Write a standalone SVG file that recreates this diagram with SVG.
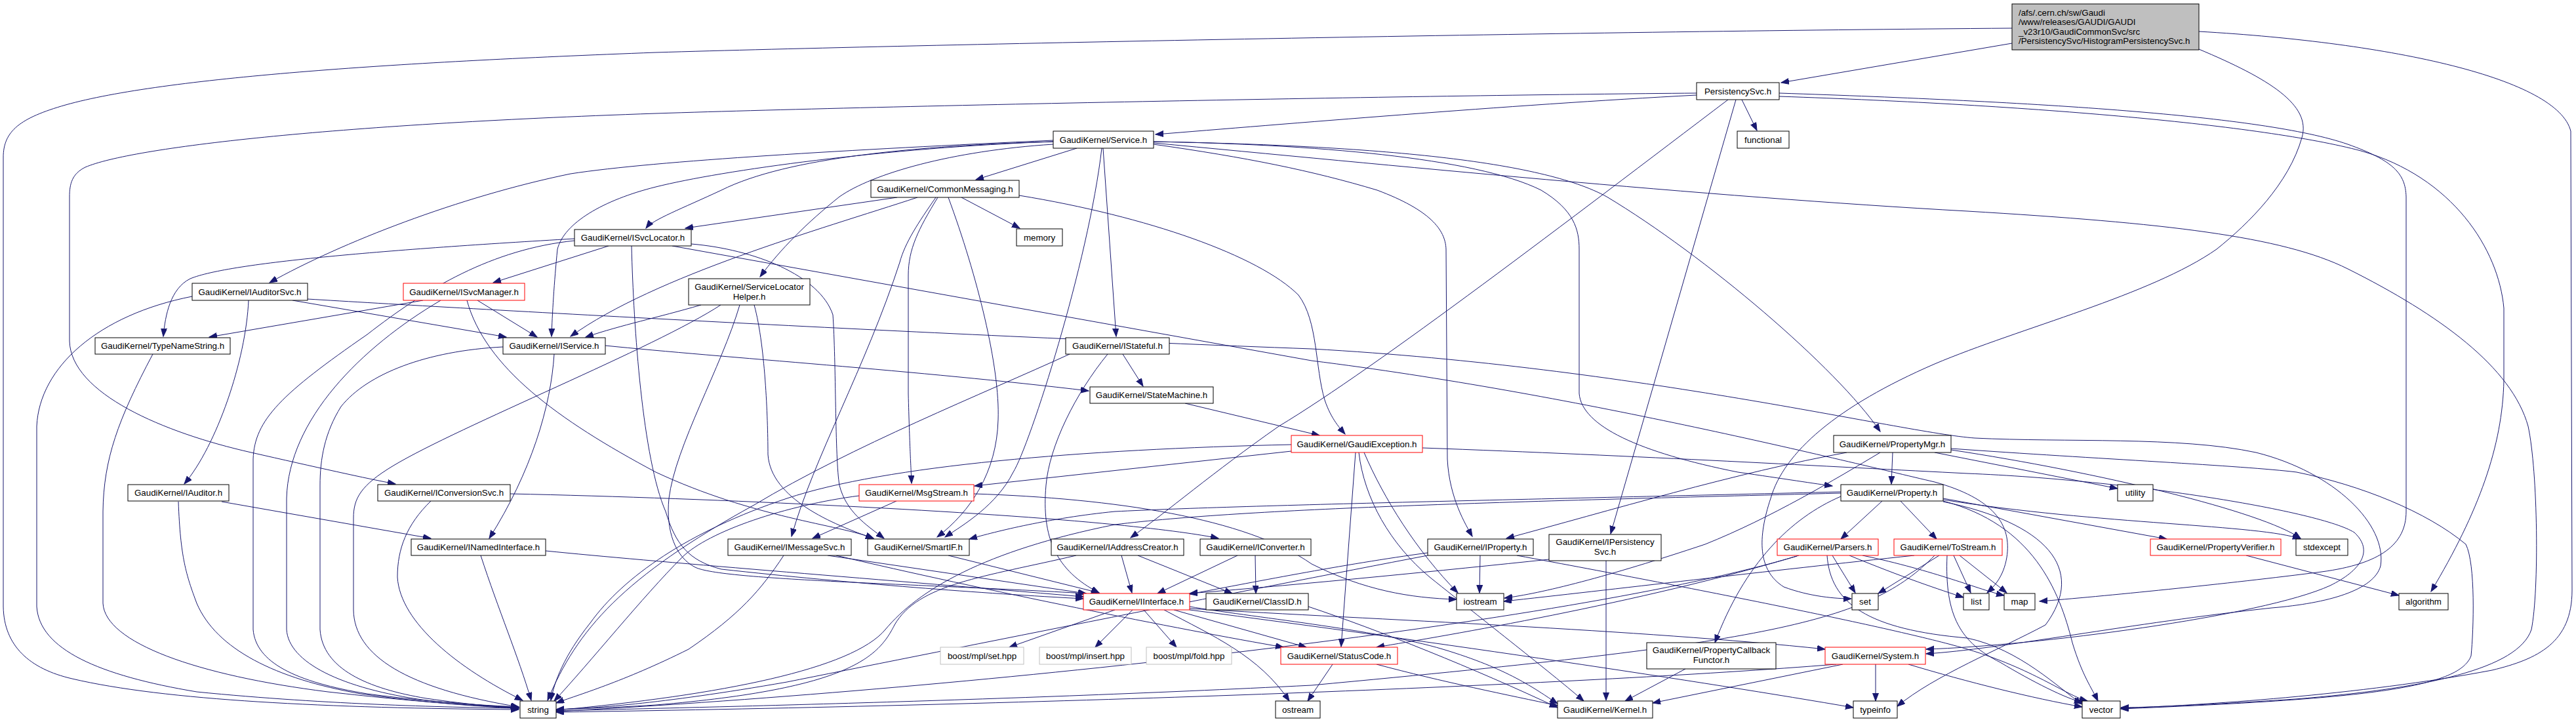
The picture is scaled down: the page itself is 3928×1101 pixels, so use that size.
<svg xmlns="http://www.w3.org/2000/svg" width="3928" height="1101" viewBox="0 0 3928 1101">
<style>
.bg{fill:#fff}
.node rect{fill:#fff;stroke:#000;stroke-width:1}
.node.red rect{stroke:#ff0000}
.node.gray rect{stroke:#bfbfbf}
.node.root rect{fill:#bfbfbf}
.node text{font-family:"Liberation Sans",Arial,sans-serif;font-size:13.33px;fill:#000;text-anchor:middle}
.node text.l{text-anchor:start}
#edges path{fill:none;stroke:#191970;stroke-width:1;marker-end:url(#ah)}
</style>
<defs>
<marker id="ah" markerUnits="userSpaceOnUse" markerWidth="14" markerHeight="10" refX="12" refY="4.5" orient="auto"><path d="M0,0 L12,4.5 L0,9 z" fill="#191970" stroke="#191970" stroke-width="1"/></marker>
</defs>
<rect class="bg" x="0" y="0" width="3928" height="1101"/>
<g id="edges">
<path d="M3068,66 L2716,126"/>
<path d="M3068,43 C2400,48 1400,68 1000,80 C600,95 250,118 100,160 C30,180 5,200 5,240 L5,925 C6,985 45,1020 110,1035 C250,1068 500,1080 791,1082"/>
<path d="M3353,48 C3650,65 3900,120 3920,200 L3922,900 C3922,980 3870,1005 3800,1022 C3600,1060 3350,1076 3234,1080"/>
<path d="M3353,75 C3460,120 3525,160 3510,210 C3490,280 3430,340 3380,380 C3280,450 3080,500 2950,555 C2800,620 2720,690 2700,760 C2680,820 2680,870 2720,895 C2760,910 2800,913 2823,913"/>
<path d="M2587,145 C2300,160 1950,190 1762,205"/>
<path d="M2656,152 L2679,199"/>
<path d="M2587,142 C2200,145 1400,160 1000,173 C500,190 200,225 130,255 C110,265 106,280 106,300 L106,520 C108,600 250,660 383,690 C480,712 560,730 603,738"/>
<path d="M2635,152 C2400,330 2100,560 1950,650 C1850,720 1780,780 1724,820"/>
<path d="M2647,152 L2456,814"/>
<path d="M2713,142 C3100,155 3450,175 3580,220 C3650,245 3668,265 3669,300 L3669,780 C3669,830 3630,860 3540,872 C3400,890 3200,910 3110,917"/>
<path d="M2713,147 C3100,160 3450,190 3600,230 C3740,270 3810,380 3818,470 L3818,580 C3816,680 3780,780 3707,902"/>
<path d="M1642,226 L1488,274"/>
<path d="M1606,216 C1400,222 1200,240 1100,290 C1040,318 995,335 985,348"/>
<path d="M1606,214 C1300,228 1000,245 870,265 C700,300 520,370 411,431"/>
<path d="M1606,216 C1350,225 1100,260 1000,285 C920,305 860,340 850,380 C845,430 842,480 841,513"/>
<path d="M1606,220 C1450,230 1330,265 1280,300 C1230,340 1190,380 1159,422"/>
<path d="M1682,226 L1702,513"/>
<path d="M1680,226 C1660,400 1570,680 1545,720 C1520,770 1470,800 1441,819"/>
<path d="M1759,220 C1900,240 2000,260 2100,290 C2180,320 2204,350 2205,380 L2207,700 C2210,760 2235,800 2245,818"/>
<path d="M1759,216 C2000,220 2250,240 2350,290 C2400,320 2408,350 2408,380 L2408,600 C2412,650 2500,690 2650,720 C2720,730 2770,738 2794,741"/>
<path d="M1759,216 C2100,222 2350,245 2450,300 C2600,390 2800,560 2867,658"/>
<path d="M1759,218 C2100,250 2600,300 3000,322 C3300,340 3480,360 3580,410 C3720,480 3830,560 3855,650 C3870,720 3872,900 3860,960 C3840,1020 3700,1050 3500,1066 C3350,1076 3260,1079 3234,1079"/>
<path d="M1368,301 L1045,348"/>
<path d="M1399,301 C1250,350 1000,420 870,513"/>
<path d="M1427,301 C1400,340 1380,370 1372,400 C1320,560 1240,700 1207,818"/>
<path d="M1430,301 C1400,350 1385,380 1385,420 L1385,600 C1387,680 1389,710 1390,737"/>
<path d="M1446,301 C1490,420 1525,560 1522,640 C1520,720 1480,780 1429,819"/>
<path d="M1466,301 L1555,348"/>
<path d="M1554,298 C1750,330 1920,390 1980,450 C2010,490 2005,560 2020,610 C2030,640 2045,655 2051,662"/>
<path d="M876,364 C600,380 350,400 290,425 C260,440 252,480 249,513"/>
<path d="M876,367 C750,380 650,440 560,510 C430,600 388,640 386,700 L386,960 C390,1010 450,1040 560,1058 C650,1070 740,1076 791,1078"/>
<path d="M928,375 L752,431"/>
<path d="M963,375 C966,500 980,700 1015,780 C1030,830 1050,855 1100,868 C1300,890 1500,905 1652,913"/>
<path d="M1054,372 C1150,380 1250,420 1270,480 C1275,550 1273,700 1280,740 C1290,780 1320,800 1348,821"/>
<path d="M1025,375 L2000,550 C2400,600 2800,700 2950,735 C3040,760 3068,800 3060,850 C3055,880 3040,895 3030,904"/>
<path d="M446,458 L772,514"/>
<path d="M379,458 C375,550 330,680 281,738"/>
<path d="M293,452 C150,480 60,560 56,650 L56,925 C60,990 150,1030 300,1055 C500,1075 700,1079 791,1080"/>
<path d="M469,456 C700,470 1400,510 2000,532 C2500,560 2900,660 3011,668 C3150,675 3323,665 3440,690 C3560,720 3640,800 3630,863 C3620,900 3550,920 3464,927 C3250,950 3050,990 2937,997"/>
<path d="M645,458 L319,514"/>
<path d="M728,458 L819,514"/>
<path d="M672,458 C550,530 440,640 437,760 L437,960 C440,1010 520,1050 650,1068 C720,1075 770,1078 791,1078"/>
<path d="M712,458 C740,560 850,640 1000,720 C1150,790 1280,800 1332,821"/>
<path d="M1069,465 C1000,485 950,495 893,514"/>
<path d="M1099,465 C1000,530 700,650 600,710 C550,740 539,760 539,790 L539,930 C540,1000 620,1050 791,1078"/>
<path d="M1128,465 C1100,560 1030,680 1020,760 C1015,810 1030,850 1060,865 C1100,885 1400,890 1656,905"/>
<path d="M1150,465 C1168,530 1171,650 1171,693 C1175,760 1270,800 1332,821"/>
<path d="M233,540 C180,640 158,700 157,780 L157,920 C160,980 300,1030 500,1055 C650,1072 750,1078 791,1079"/>
<path d="M767,529 C650,535 560,570 520,620 C495,660 488,700 488,740 L488,960 C492,1020 560,1050 650,1065 C720,1075 760,1078 791,1080"/>
<path d="M923,527 C1100,545 1400,565 1660,596"/>
<path d="M845,540 C840,620 810,720 746,821"/>
<path d="M1712,540 L1743,589"/>
<path d="M1689,540 C1640,600 1600,680 1595,740 C1588,820 1610,870 1676,904"/>
<path d="M1631,540 C1500,600 1300,680 1150,770 C950,880 880,960 835,1068"/>
<path d="M1807,615 L2012,664"/>
<path d="M1969,688 L1486,741"/>
<path d="M1969,678 C1650,685 1350,710 1200,760 C1050,810 950,880 900,950 C860,1000 845,1040 840,1068"/>
<path d="M2067,690 L2045,986"/>
<path d="M2072,690 C2080,760 2120,830 2180,880 C2280,960 2370,1030 2415,1069"/>
<path d="M2080,690 C2110,760 2160,840 2223,904"/>
<path d="M2169,683 C2500,695 2800,712 3000,722 C3250,732 3540,780 3590,812 C3620,840 3600,870 3553,893 C3450,940 3100,985 2937,990"/>
<path d="M2886,690 L2884,738"/>
<path d="M2816,690 C2650,720 2450,780 2297,821"/>
<path d="M2867,690 C2800,730 2700,790 2600,830 C2450,880 2350,905 2294,912"/>
<path d="M2950,690 L3229,745"/>
<path d="M2975,686 C3200,720 3450,780 3508,821"/>
<path d="M2975,684 C3200,700 3420,710 3502,720 C3600,740 3700,780 3760,830 C3775,860 3772,960 3768,1000 C3750,1050 3600,1066 3234,1081"/>
<path d="M338,765 L657,821"/>
<path d="M272,765 C275,850 284,877 300,920 C330,990 420,1035 550,1058 C650,1072 740,1078 791,1080"/>
<path d="M657,764 C620,800 606,837 606,880 C610,950 700,1020 797,1068"/>
<path d="M778,753 C1100,760 1500,780 1700,800 C1780,808 1830,815 1858,821"/>
<path d="M1367,764 L1239,821"/>
<path d="M1310,756 C1200,770 1080,810 1040,850 C980,910 900,1010 845,1069"/>
<path d="M1485,753 C1700,760 1900,790 2000,860 C2080,900 2150,912 2221,914"/>
<path d="M733,847 C760,930 790,1000 810,1068"/>
<path d="M832,840 C1000,857 1300,880 1652,910"/>
<path d="M1195,847 C1160,900 1128,937 1050,990 C950,1040 880,1060 848,1072"/>
<path d="M1262,847 L1656,905"/>
<path d="M1275,847 C1500,900 1800,960 1957,987"/>
<path d="M1446,847 L1676,904"/>
<path d="M1710,847 L1726,904"/>
<path d="M1735,847 L1879,905"/>
<path d="M1641,847 C1500,880 1400,890 1364,953 C1340,1000 1300,1050 1000,1075 C920,1080 870,1081 848,1082"/>
<path d="M1887,847 L1765,905"/>
<path d="M1914,847 L1915,905"/>
<path d="M2257,847 L2256,904"/>
<path d="M2177,843 C2050,860 1900,890 1814,906"/>
<path d="M2177,847 C1900,900 1400,1000 1200,1040 C1000,1075 900,1080 848,1082"/>
<path d="M2313,847 C2600,900 2900,960 3000,990 C3100,1020 3150,1060 3183,1069"/>
<path d="M2449,855 L2449,1068"/>
<path d="M2362,853 C2200,870 2000,890 1814,905"/>
<path d="M2743,847 C2500,920 2200,970 2099,987"/>
<path d="M2740,848 C2400,950 1500,1050 848,1085"/>
<path d="M2794,847 L2829,904"/>
<path d="M2820,847 C2900,880 2960,900 2994,911"/>
<path d="M2840,847 C2950,870 3020,900 3056,908"/>
<path d="M2786,847 C2791,920 2848,960 3000,973 C3080,990 3140,1050 3175,1074"/>
<path d="M2919,847 C2700,870 2450,900 2293,917"/>
<path d="M2957,847 L2864,905"/>
<path d="M2979,847 L3005,904"/>
<path d="M2988,847 L3060,904"/>
<path d="M2969,847 C2965,940 2990,980 3050,1010 C3100,1040 3150,1065 3175,1071"/>
<path d="M2950,847 C2850,950 2700,980 2000,1045 C1500,1070 1000,1080 848,1084"/>
<path d="M3425,847 L3658,908"/>
<path d="M2570,1020 L2478,1069"/>
<path d="M1700,930 L1539,987"/>
<path d="M1727,930 L1670,987"/>
<path d="M1744,930 L1794,987"/>
<path d="M1790,930 L1992,987"/>
<path d="M1775,930 C1850,970 1920,1000 1966,1069"/>
<path d="M1814,925 C1900,940 2100,960 2200,990 C2300,1020 2340,1050 2375,1073"/>
<path d="M1814,928 C2100,945 2500,960 2783,990"/>
<path d="M1814,930 C2200,980 2600,1040 2826,1079"/>
<path d="M1995,925 C2100,960 2250,1020 2375,1079"/>
<path d="M2032,1013 L1994,1069"/>
<path d="M2099,1013 C2200,1040 2300,1060 2375,1076"/>
<path d="M2800,1013 C2400,1045 1600,1075 848,1086"/>
<path d="M2810,1013 L2520,1072"/>
<path d="M2860,1013 L2860,1069"/>
<path d="M2910,1013 C3000,1040 3100,1065 3175,1078"/>
<path d="M2870,764 L2807,822"/>
<path d="M2898,764 L2953,822"/>
<path d="M2807,757 C2730,790 2660,860 2615,980"/>
<path d="M2963,760 L3304,822"/>
<path d="M2963,762 C3200,800 3450,800 3508,822"/>
<path d="M2807,750 C2400,760 1900,770 1700,780 C1600,790 1520,810 1478,822"/>
<path d="M2807,752 C2300,765 1900,775 1700,800 C1500,840 1400,900 1350,960 C1300,1020 1100,1060 848,1083"/>
<path d="M2963,764 C3100,800 3140,900 3160,980 C3175,1030 3190,1050 3199,1069"/>
<path d="M2963,765 C3119,797 3183,867 3119,953 C3050,990 2950,1030 2893,1077"/>
</g>
<g id="n_root" class="node root"><rect x="3068" y="6" width="285" height="70"/><text class="l" x="3078" y="23.5">/afs/.cern.ch/sw/Gaudi</text><text class="l" x="3078" y="38">/www/releases/GAUDI/GAUDI</text><text class="l" x="3078" y="52.5">_v23r10/GaudiCommonSvc/src</text><text class="l" x="3078" y="67">/PersistencySvc/HistogramPersistencySvc.h</text></g>
<g id="n_PersistencySvc" class="node"><rect x="2587" y="126" width="126" height="26"/><text x="2650" y="143.5">PersistencySvc.h</text></g>
<g id="n_functional" class="node"><rect x="2649" y="200" width="79" height="26"/><text x="2688.5" y="217.5">functional</text></g>
<g id="n_Service" class="node"><rect x="1606" y="200" width="153" height="26"/><text x="1682.5" y="217.5">GaudiKernel/Service.h</text></g>
<g id="n_CommonMessaging" class="node"><rect x="1328" y="275" width="226" height="26"/><text x="1441" y="292.5">GaudiKernel/CommonMessaging.h</text></g>
<g id="n_memory" class="node"><rect x="1550" y="349" width="70" height="26"/><text x="1585" y="366.5">memory</text></g>
<g id="n_ISvcLocator" class="node"><rect x="876" y="350" width="178" height="25"/><text x="965" y="367">GaudiKernel/ISvcLocator.h</text></g>
<g id="n_IAuditorSvc" class="node"><rect x="293" y="432" width="176" height="26"/><text x="381" y="449.5">GaudiKernel/IAuditorSvc.h</text></g>
<g id="n_ISvcManager" class="node red"><rect x="615" y="432" width="185" height="26"/><text x="707.5" y="449.5">GaudiKernel/ISvcManager.h</text></g>
<g id="n_ServiceLocatorHelper" class="node"><rect x="1050" y="425" width="185" height="40"/><text x="1142.5" y="442">GaudiKernel/ServiceLocator</text><text x="1142.5" y="456.5">Helper.h</text></g>
<g id="n_IStateful" class="node"><rect x="1625" y="515" width="158" height="25"/><text x="1704" y="532">GaudiKernel/IStateful.h</text></g>
<g id="n_TypeNameString" class="node"><rect x="145" y="515" width="206" height="25"/><text x="248" y="532">GaudiKernel/TypeNameString.h</text></g>
<g id="n_IService" class="node"><rect x="767" y="515" width="156" height="25"/><text x="845" y="532">GaudiKernel/IService.h</text></g>
<g id="n_StateMachine" class="node"><rect x="1662" y="590" width="188" height="25"/><text x="1756" y="607">GaudiKernel/StateMachine.h</text></g>
<g id="n_GaudiException" class="node red"><rect x="1969" y="664" width="200" height="26"/><text x="2069" y="681.5">GaudiKernel/GaudiException.h</text></g>
<g id="n_PropertyMgr" class="node"><rect x="2796" y="664" width="179" height="26"/><text x="2885.5" y="681.5">GaudiKernel/PropertyMgr.h</text></g>
<g id="n_utility" class="node"><rect x="3229" y="739" width="54" height="25"/><text x="3256" y="756">utility</text></g>
<g id="n_IAuditor" class="node"><rect x="195" y="739" width="154" height="25"/><text x="272" y="756">GaudiKernel/IAuditor.h</text></g>
<g id="n_IConversionSvc" class="node"><rect x="576" y="739" width="202" height="25"/><text x="677" y="756">GaudiKernel/IConversionSvc.h</text></g>
<g id="n_MsgStream" class="node red"><rect x="1310" y="739" width="175" height="25"/><text x="1397.5" y="756">GaudiKernel/MsgStream.h</text></g>
<g id="n_Property" class="node"><rect x="2807" y="739" width="156" height="25"/><text x="2885" y="756">GaudiKernel/Property.h</text></g>
<g id="n_INamedInterface" class="node"><rect x="627" y="822" width="205" height="25"/><text x="729.5" y="839">GaudiKernel/INamedInterface.h</text></g>
<g id="n_IMessageSvc" class="node"><rect x="1110" y="822" width="188" height="25"/><text x="1204" y="839">GaudiKernel/IMessageSvc.h</text></g>
<g id="n_SmartIF" class="node"><rect x="1323" y="822" width="155" height="25"/><text x="1400.5" y="839">GaudiKernel/SmartIF.h</text></g>
<g id="n_IAddressCreator" class="node"><rect x="1603" y="822" width="202" height="25"/><text x="1704" y="839">GaudiKernel/IAddressCreator.h</text></g>
<g id="n_IConverter" class="node"><rect x="1830" y="822" width="169" height="25"/><text x="1914.5" y="839">GaudiKernel/IConverter.h</text></g>
<g id="n_IProperty" class="node"><rect x="2177" y="822" width="161" height="25"/><text x="2257.5" y="839">GaudiKernel/IProperty.h</text></g>
<g id="n_IPersistencySvc" class="node"><rect x="2362" y="815" width="171" height="40"/><text x="2447.5" y="831">GaudiKernel/IPersistency</text><text x="2447.5" y="845.5">Svc.h</text></g>
<g id="n_Parsers" class="node red"><rect x="2710" y="822" width="154" height="25"/><text x="2787" y="839">GaudiKernel/Parsers.h</text></g>
<g id="n_ToStream" class="node red"><rect x="2888" y="822" width="165" height="25"/><text x="2970.5" y="839">GaudiKernel/ToStream.h</text></g>
<g id="n_PropertyVerifier" class="node red"><rect x="3279" y="822" width="199" height="25"/><text x="3378.5" y="839">GaudiKernel/PropertyVerifier.h</text></g>
<g id="n_stdexcept" class="node"><rect x="3501" y="822" width="79" height="25"/><text x="3540.5" y="839">stdexcept</text></g>
<g id="n_IInterface" class="node red"><rect x="1652" y="905" width="162" height="25"/><text x="1733" y="922">GaudiKernel/IInterface.h</text></g>
<g id="n_ClassID" class="node"><rect x="1839" y="905" width="156" height="25"/><text x="1917" y="922">GaudiKernel/ClassID.h</text></g>
<g id="n_iostream" class="node"><rect x="2221" y="905" width="72" height="25"/><text x="2257" y="922">iostream</text></g>
<g id="n_set" class="node"><rect x="2824" y="905" width="40" height="25"/><text x="2844" y="922">set</text></g>
<g id="n_list" class="node"><rect x="2994" y="905" width="39" height="25"/><text x="3013.5" y="922">list</text></g>
<g id="n_map" class="node"><rect x="3056" y="905" width="47" height="25"/><text x="3079.5" y="922">map</text></g>
<g id="n_algorithm" class="node"><rect x="3658" y="905" width="75" height="25"/><text x="3695.5" y="922">algorithm</text></g>
<g id="n_boost_set" class="node gray"><rect x="1434" y="987" width="127" height="26"/><text x="1497.5" y="1004.5">boost/mpl/set.hpp</text></g>
<g id="n_boost_insert" class="node gray"><rect x="1585" y="987" width="140" height="26"/><text x="1655" y="1004.5">boost/mpl/insert.hpp</text></g>
<g id="n_boost_fold" class="node gray"><rect x="1748" y="987" width="130" height="26"/><text x="1813" y="1004.5">boost/mpl/fold.hpp</text></g>
<g id="n_StatusCode" class="node red"><rect x="1953" y="987" width="178" height="26"/><text x="2042" y="1004.5">GaudiKernel/StatusCode.h</text></g>
<g id="n_PropertyCallbackFunctor" class="node"><rect x="2511" y="980" width="197" height="40"/><text x="2609.5" y="996">GaudiKernel/PropertyCallback</text><text x="2609.5" y="1010.5">Functor.h</text></g>
<g id="n_System" class="node red"><rect x="2783" y="987" width="153" height="26"/><text x="2859.5" y="1004.5">GaudiKernel/System.h</text></g>
<g id="n_string" class="node"><rect x="793" y="1069" width="55" height="26"/><text x="820.5" y="1086.5">string</text></g>
<g id="n_ostream" class="node"><rect x="1945" y="1069" width="68" height="26"/><text x="1979" y="1086.5">ostream</text></g>
<g id="n_Kernel" class="node"><rect x="2375" y="1069" width="145" height="26"/><text x="2447.5" y="1086.5">GaudiKernel/Kernel.h</text></g>
<g id="n_typeinfo" class="node"><rect x="2826" y="1069" width="67" height="26"/><text x="2859.5" y="1086.5">typeinfo</text></g>
<g id="n_vector" class="node"><rect x="3175" y="1069" width="58" height="26"/><text x="3204" y="1086.5">vector</text></g>
</svg>
